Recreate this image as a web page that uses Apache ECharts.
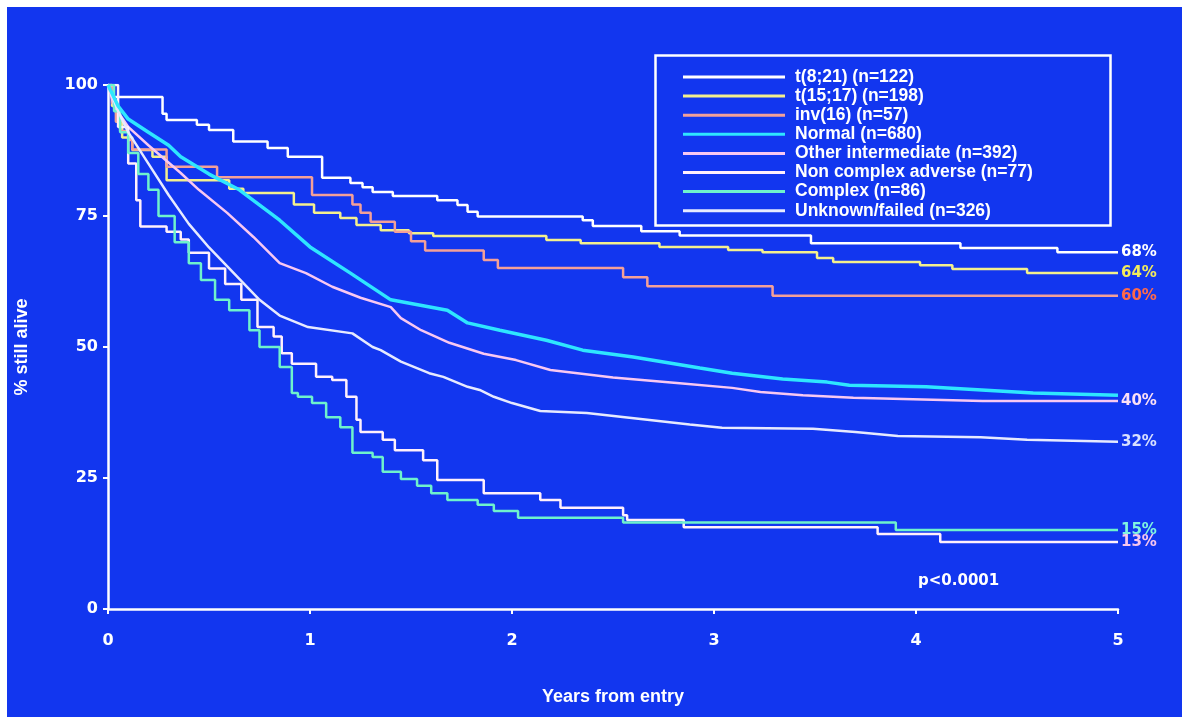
<!DOCTYPE html>
<html>
<head>
<meta charset="utf-8">
<script src="https://cdn.jsdelivr.net/npm/echarts@6/dist/echarts.min.js"></script>
<style>
  html, body { margin: 0; padding: 0; background: #ffffff; }
  #chart { position: absolute; left: 7px; top: 7px; width: 1175px; height: 710px; background: #1236ef; }
</style>
</head>
<body>
<div id="chart"></div>
<script>
// Kaplan-Meier survival by cytogenetic group: years from entry vs % still alive
const xTicks = [0, 1, 2, 3, 4, 5];
const yTicks = [0, 25, 50, 75, 100];

const groupNames = [
  't(8;21) (n=122)',
  't(15;17) (n=198)',
  'inv(16) (n=57)',
  'Normal (n=680)',
  'Other intermediate (n=392)',
  'Non complex adverse (n=77)',
  'Complex (n=86)',
  'Unknown/failed (n=326)'
];

// t(8;21)
const t821Years = [0, 0.02, 0.27, 0.29, 0.44, 0.50, 0.62, 0.79, 0.89, 1.06, 1.20, 1.26, 1.31, 1.41, 1.63, 1.73, 1.78, 1.83, 2.35, 2.40, 2.64, 2.83, 3.48, 4.22, 4.70, 5.0];
const t821Surv  = [100, 97.7, 94.5, 93.3, 92.4, 91.4, 89.2, 88.0, 86.3, 82.3, 81.3, 80.5, 79.6, 78.8, 78.0, 77.1, 75.8, 74.9, 74.2, 73.1, 72.1, 71.3, 69.8, 68.9, 68.1, 68.1];

// t(15;17)
const t1517Years = [0, 0.02, 0.04, 0.07, 0.12, 0.22, 0.29, 0.60, 0.67, 0.92, 1.02, 1.15, 1.23, 1.35, 1.49, 1.61, 2.17, 2.34, 2.73, 3.07, 3.24, 3.51, 3.59, 4.02, 4.18, 4.55, 5.0];
const t1517Surv  = [100, 96.0, 93.0, 90.0, 87.6, 86.3, 81.8, 80.2, 79.4, 77.2, 75.6, 74.6, 73.3, 72.3, 71.7, 71.2, 70.4, 69.8, 69.1, 68.5, 68.1, 67.0, 66.2, 65.6, 64.9, 64.1, 64.1];

// inv(16)
const inv16Years = [0, 0.02, 0.04, 0.06, 0.10, 0.12, 0.29, 0.54, 1.01, 1.21, 1.25, 1.30, 1.42, 1.50, 1.57, 1.86, 1.93, 2.55, 2.67, 3.29, 5.0];
const inv16Surv  = [100, 96.5, 93.0, 91.2, 89.5, 87.7, 84.4, 82.4, 79.0, 77.2, 75.6, 73.9, 72.0, 70.2, 68.4, 66.6, 65.1, 63.3, 61.6, 59.8, 59.8];

// Normal karyotype
const normalYears = [0, 0.05, 0.10, 0.20, 0.30, 0.36, 0.50, 0.65, 0.85, 1.00, 1.20, 1.40, 1.68, 1.78, 1.94, 2.17, 2.35, 2.60, 2.93, 3.09, 3.34, 3.56, 3.67, 4.05, 4.58, 5.0];
const normalSurv  = [100, 96.0, 93.5, 91.0, 88.5, 86.3, 83.0, 80.0, 74.2, 69.1, 64.1, 59.0, 57.0, 54.6, 53.2, 51.3, 49.4, 48.1, 46.0, 45.0, 43.9, 43.3, 42.7, 42.4, 41.2, 40.8];

// Other intermediate
const otherYears = [0, 0.03, 0.10, 0.20, 0.36, 0.45, 0.59, 0.72, 0.85, 0.98, 1.11, 1.25, 1.40, 1.45, 1.55, 1.69, 1.86, 2.02, 2.19, 2.50, 2.83, 3.09, 3.23, 3.44, 3.69, 4.33, 5.0];
const otherSurv  = [100, 96.0, 92.0, 88.5, 83.2, 80.0, 75.6, 71.0, 66.0, 64.1, 61.5, 59.4, 57.6, 55.5, 53.2, 50.8, 48.7, 47.5, 45.6, 44.2, 43.1, 42.2, 41.4, 40.8, 40.3, 39.7, 39.7];

// Non complex adverse
const ncaYears = [0, 0.05, 0.10, 0.14, 0.16, 0.29, 0.36, 0.40, 0.50, 0.58, 0.66, 0.74, 0.82, 0.86, 0.91, 1.03, 1.11, 1.18, 1.23, 1.25, 1.36, 1.42, 1.56, 1.63, 1.86, 2.14, 2.24, 2.55, 2.57, 2.85, 3.81, 4.12, 5.0];
const ncaSurv  = [100, 92.0, 85.0, 78.0, 73.0, 72.0, 70.5, 68.0, 65.0, 62.0, 59.0, 53.8, 52.0, 48.8, 46.8, 44.3, 43.7, 40.5, 36.1, 33.8, 32.3, 30.3, 28.4, 24.6, 22.1, 20.8, 19.3, 17.9, 17.0, 15.6, 14.3, 12.8, 12.8];

// Complex
const complexYears = [0, 0.03, 0.06, 0.10, 0.15, 0.20, 0.25, 0.33, 0.40, 0.46, 0.53, 0.60, 0.70, 0.75, 0.85, 0.91, 0.94, 1.01, 1.08, 1.15, 1.21, 1.31, 1.36, 1.45, 1.53, 1.60, 1.68, 1.83, 1.91, 2.03, 2.55, 3.90, 5.0];
const complexSurv  = [100, 95.0, 91.0, 87.0, 83.0, 80.0, 75.0, 70.0, 66.0, 62.8, 59.0, 57.0, 53.2, 50.0, 46.2, 41.2, 40.5, 39.3, 36.6, 34.7, 29.8, 29.0, 26.2, 24.8, 23.5, 22.1, 20.8, 19.9, 18.7, 17.4, 16.5, 15.1, 15.1];

// Unknown / failed
const unknownYears = [0, 0.05, 0.10, 0.20, 0.30, 0.40, 0.50, 0.60, 0.75, 0.85, 0.99, 1.21, 1.31, 1.35, 1.45, 1.59, 1.66, 1.78, 1.84, 1.91, 2.00, 2.14, 2.37, 2.67, 2.88, 3.04, 3.49, 3.70, 3.91, 4.32, 4.55, 5.0];
const unknownSurv  = [100, 95.0, 91.0, 85.0, 79.0, 73.5, 69.0, 65.0, 59.0, 56.0, 53.8, 52.6, 50.0, 49.4, 47.2, 45.0, 44.3, 42.4, 41.8, 40.5, 39.3, 37.8, 37.4, 36.1, 35.2, 34.6, 34.4, 33.8, 33.0, 32.8, 32.3, 31.9];

const pair = (xs, ys) => xs.map((x, i) => [x, ys[i]]);

const groups = [
  { years: t821Years,    surv: t821Surv,    color: '#ffffff', label: '#ffffff', step: 'end' },
  { years: t1517Years,   surv: t1517Surv,   color: '#f3f08e', label: '#f2ec5c', step: 'end' },
  { years: inv16Years,   surv: inv16Surv,   color: '#f3a098', label: '#ff6a4a', step: 'end' },
  { years: normalYears,  surv: normalSurv,  color: '#2ee6ff', label: null,      step: false, width: 3.5 },
  { years: otherYears,   surv: otherSurv,   color: '#f8c8f2', label: '#fbe0f6', step: false },
  { years: ncaYears,     surv: ncaSurv,     color: '#fff0fc', label: '#f7c6ee', step: 'end' },
  { years: complexYears, surv: complexSurv, color: '#6ef2cc', label: '#7ff5e0', step: 'end' },
  { years: unknownYears, surv: unknownSurv, color: '#e6eaff', label: '#d8e0ff', step: false }
];

const font = '"Liberation Sans", Arial, sans-serif';
const wideFont = '"DejaVu Sans", "Liberation Sans", sans-serif';

const series = groups.map((g, i) => ({
  name: groupNames[i],
  type: 'line',
  step: g.step,
  data: pair(g.years, g.surv),
  symbol: 'none',
  color: g.color,
  lineStyle: { color: g.color, width: g.width || 2.5 },
  z: i === 3 ? 3 : 2,
  endLabel: g.label ? {
    show: true,
    distance: 3,
    color: g.label,
    fontFamily: wideFont,
    fontWeight: 'bold',
    fontSize: 15,
    formatter: p => Math.round(p.value[1]) + '%'
  } : { show: false }
}));

const chart = echarts.init(document.getElementById('chart'), null, { renderer: 'canvas' });
chart.setOption({
  animation: false,
  backgroundColor: '#1236ef',
  textStyle: { fontFamily: font },
  grid: { left: 101, right: 64, top: 78, bottom: 108, outerBoundsMode: 'none', containLabel: false },
  legend: {
    orient: 'vertical',
    left: 676,
    top: 61,
    padding: 0,
    selectedMode: false,
    icon: 'rect',
    itemWidth: 102,
    itemHeight: 3,
    itemGap: 1.1,
    data: groupNames,
    textStyle: { color: '#ffffff', fontFamily: font, fontWeight: 'bold', fontSize: 17.5, lineHeight: 17, padding: [0, 0, 0, 5] }
  },
  graphic: [
    { type: 'rect', left: 646, top: 46, shape: { width: 455, height: 170 },
      style: { fill: 'none', stroke: '#ffffff', lineWidth: 2.5 } },
    { type: 'text', left: 911, top: 567,
      style: { text: 'p<0.0001', fill: '#ffffff', font: 'bold 15px ' + wideFont } }
  ],
  xAxis: {
    type: 'value', min: xTicks[0], max: xTicks[xTicks.length - 1], interval: 1,
    name: 'Years from entry', nameLocation: 'middle', nameGap: 79,
    nameTextStyle: { color: '#ffffff', fontWeight: 'bold', fontSize: 18, fontFamily: font },
    axisLine: { show: true, lineStyle: { color: '#ffffff', width: 2.5 } },
    axisTick: { show: true, length: 5, lineStyle: { color: '#ffffff', width: 2 } },
    axisLabel: { color: '#ffffff', fontWeight: 'bold', fontSize: 16, margin: 24, fontFamily: wideFont,
      formatter: v => xTicks.includes(v) ? String(v) : '' },
    splitLine: { show: false }
  },
  yAxis: {
    type: 'value', min: yTicks[0], max: yTicks[yTicks.length - 1], interval: 25,
    name: '% still alive', nameLocation: 'middle', nameGap: 77,
    nameTextStyle: { color: '#ffffff', fontWeight: 'bold', fontSize: 18, fontFamily: font },
    axisLine: { show: true, lineStyle: { color: '#ffffff', width: 2.5 } },
    axisTick: { show: true, length: 5, lineStyle: { color: '#ffffff', width: 2 } },
    axisLabel: { color: '#ffffff', fontWeight: 'bold', fontSize: 16, margin: 10, fontFamily: wideFont,
      formatter: v => yTicks.includes(v) ? String(v) : '' },
    splitLine: { show: false }
  },
  series
});
</script>
</body>
</html>
